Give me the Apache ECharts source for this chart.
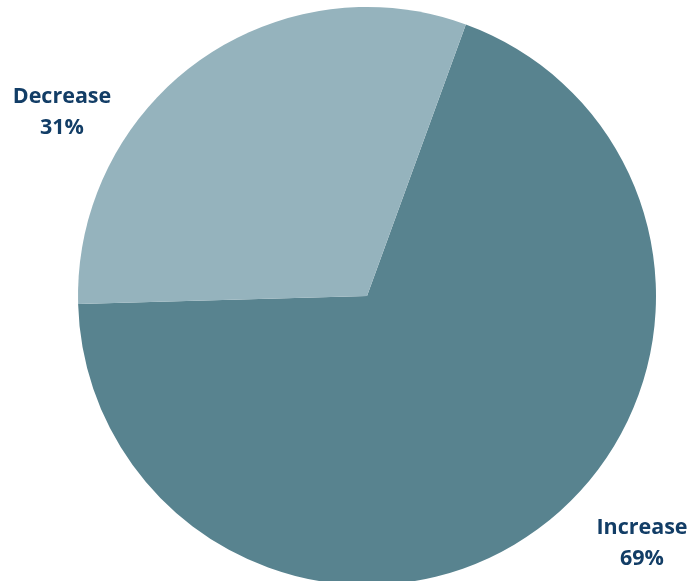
<!DOCTYPE html>
<html>
<head>
<meta charset="utf-8">
<script src="https://cdn.jsdelivr.net/npm/echarts@6/dist/echarts.min.js"></script>
<style>
  html, body { margin: 0; padding: 0; background: #ffffff; }
  #chart { width: 691px; height: 581px; }
</style>
</head>
<body>
<div id="chart"></div>
<script>
// Share of responses by direction of change
const categories = ['Increase', 'Decrease'];
const shares = [69, 31];
const sliceColors = ['#58838f', '#95b3bd'];

// Where each category label sits (pixel anchor of the text block centre)
const labelAnchors = [[642, 543], [62, 112]];

const chart = echarts.init(document.getElementById('chart'), null, { renderer: 'canvas' });

chart.setOption({
  animation: false,
  series: [{
    type: 'pie',
    center: [367, 296],
    radius: [0, 289],
    startAngle: 70,
    clockwise: true,
    avoidLabelOverlap: false,
    data: categories.map((name, i) => ({
      name: name,
      value: shares[i],
      itemStyle: { color: sliceColors[i] }
    })),
    label: {
      show: true,
      position: 'outside',
      formatter: p => p.name + '\n' + p.value + '%',
      color: '#123d66',
      fontFamily: 'Open Sans',
      fontWeight: 'bold',
      fontSize: 21.5,
      lineHeight: 31,
      align: 'center'
    },
    labelLine: { show: false },
    labelLayout: p => ({
      x: labelAnchors[p.dataIndex][0],
      y: labelAnchors[p.dataIndex][1],
      align: 'center',
      verticalAlign: 'middle'
    }),
    emphasis: { disabled: true }
  }]
});
</script>
</body>
</html>
